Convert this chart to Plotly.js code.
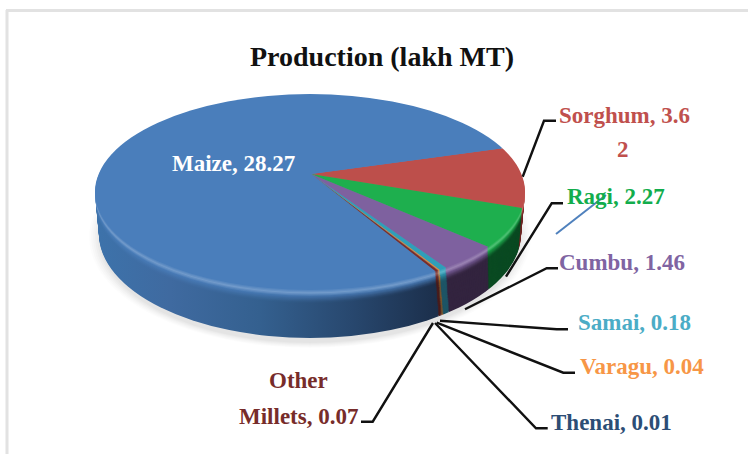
<!DOCTYPE html>
<html><head><meta charset="utf-8">
<script src="https://cdn.plot.ly/plotly-3.0.1.min.js"></script>
<style>html,body{margin:0;padding:0;background:#fff}#c{width:748px;height:454px}</style>
</head><body><div id="c"></div>
<script>
const crops = ['Sorghum','Ragi','Cumbu','Samai','Varagu','Thenai','Other Millets','Maize'];
const production = [3.62,2.27,1.46,0.18,0.04,0.01,0.07,28.27];
const topColors = ['#bd4f4b','#1eaf4e','#7e619f','#2f9fb9','#e8883a','#2c4d75','#7a2c2a','#4a7ebb'];
const wallColors = ['#6e2624','#0a4a22','#33243f','#1d5566','#8f5520','#1a2d45','#4a1b1a','#1c3050'];
const labelColors = ['#c0504d','#12ad4c','#8064a2','#4bacc6','#f79646','#2c4d75','#772c2a','#ffffff'];
const W=748,H=454,FONT='"Liberation Serif", serif';

const apex={x:311,y:174}, squash=0.45, zoom=1.5;
const faceE={cx:310,cy:192,a:215,b:98}, footE={cx:310,cy:234,a:211,b:104};
const R0=200, C0={x:374,y:227};
const STEPS=42;
const px=x=>x/W, py=y=>1-y/H;
const hex=c=>[1,3,5].map(i=>parseInt(c.substr(i,2),16));
const mix=(a,b,t)=>{const A=hex(a),B=hex(b);return 'rgb('+A.map((v,i)=>Math.round(v+(B[i]-v)*t)).join(',')+')'};
// s=0 at rim, 1 at foot: soft bevel first, then wall colour
const wallT=s=>{const u=Math.min(1,Math.max(0,(s-0.06)/0.24));return u*u*(3-2*u);};
const bevel=s=>Math.max(0,1-Math.abs(s-0.07)/0.07)*0.22;
const shade=(c,w,s)=>{const base=mix(c,w,wallT(s));const m=base.match(/\d+/g).map(Number);const b=bevel(s);
  return 'rgb('+m.map(v=>Math.round(v+(255-v)*b)).join(',')+')';};
const traces=[];
function pie(cols){return {type:'pie',values:production,labels:crops,sort:false,direction:'clockwise',rotation:73.4,
  textinfo:'none',hoverinfo:'skip',showlegend:false,marker:{colors:cols,line:{width:0}},
  domain:{x:[px(C0.x-R0),px(C0.x+R0)],y:[py(C0.y+R0),py(C0.y-R0)]}};}
for(let i=STEPS;i>=1;i--){
  const s=i/STEPS;
  traces.push(pie(topColors.map((c,j)=>shade(c,wallColors[j],s))));
}
traces.push(pie(topColors));

// leader lines
const leaders=[
 [[522.7,176.7],[544,120.7],[556,120.7]],
 [[506,276.7],[551.7,203.3],[563,203.3]],
 [[465,309.3],[546.7,268.3],[558,268.3]],
 [[440,320.7],[556.7,329.3],[568,329.3]],
 [[436.7,322.7],[563.3,372.7],[575,372.7]],
 [[435,323],[536,428.3],[547.7,428.3]],
 [[433,323],[372.7,421.7],[361,421.7]]
];
const shapes=[];
[[221,111,.012],[219,110,.014],[217,109,.016],[215,108,.018],[213,107,.02],[211,106,.024]].forEach(g=>{
  shapes.push({type:'circle',xref:'paper',yref:'paper',layer:'below',x0:px(310-g[0]),x1:px(310+g[0]),y0:py(237-g[1]),y1:py(237+g[1]),fillcolor:'#000',opacity:g[2],line:{width:0}});
});
leaders.forEach(l=>{
  shapes.push({type:'path',xref:'paper',yref:'paper',path:'M'+l.map(p=>px(p[0])+','+py(p[1])).join('L'),line:{color:'#111',width:2.4}});
});
shapes.push({type:'line',xref:'paper',yref:'paper',x0:px(556),y0:py(234),x1:px(606),y1:py(195),line:{color:'#4f81bd',width:2}});
shapes.push({type:'line',xref:'paper',yref:'paper',x0:px(6),y0:py(10.5),x1:px(748),y1:py(10.5),line:{color:'#e2e2e2',width:3}});
shapes.push({type:'line',xref:'paper',yref:'paper',x0:px(7),y0:py(10),x1:px(7),y1:py(454),line:{color:'#e2e2e2',width:3}});

const lab=i=>crops[i]+', '+production[i];
const fs=23;
function ann(text,x,y,color){return {text:text,x:px(x),y:py(y),xref:'paper',yref:'paper',showarrow:false,xanchor:'center',yanchor:'middle',align:'center',font:{family:FONT,size:fs,color:color,weight:700}};}
const annotations=[
 ann(lab(7),233,163,labelColors[7]),
 ann('Sorghum, 3.6',624,115,labelColors[0]),
 ann('2',623,149,labelColors[0]),
 ann(lab(1),616,197,labelColors[1]),
 ann(lab(2),622,262,labelColors[2]),
 ann(lab(3),634,322,labelColors[3]),
 ann(lab(4),642,366,labelColors[4]),
 ann(lab(5),611,422,labelColors[5]),
 ann('Other',298,380,labelColors[6]),
 ann('Millets, '+production[6],298,416,labelColors[6])
];
const layout={width:W,height:H,margin:{l:0,r:0,t:0,b:0},paper_bgcolor:'#fff',showlegend:false,
 title:{text:'<b>Production (lakh MT)</b>',x:px(382),xanchor:'center',y:py(56),yanchor:'middle',font:{family:FONT,size:28,color:'#111'}},
 shapes:shapes,annotations:annotations};

Plotly.newPlot('c',traces,layout,{staticPlot:true,displayModeBar:false}).then(gd=>{
  const NS='http://www.w3.org/2000/svg';
  const svg=gd.querySelector('svg.main-svg');
  const defs=document.createElementNS(NS,'defs');svg.insertBefore(defs,svg.firstChild);
  const gs=[...gd.querySelectorAll('.pielayer .trace')];
  const n=gs.length;
  const toUser=x=>C0.x+(x-apex.x)/zoom;
  const maizeStops=[[100,'#3d72aa'],[170,'#3f6aa0'],[260,'#34608f'],[350,'#28486f'],[440,'#1b2e4a']];
  gs.forEach((g,idx)=>{
    const s=idx===n-1?0:(STEPS-idx)/STEPS;
    const E={cx:faceE.cx,cy:faceE.cy+(footE.cy-faceE.cy)*s,a:faceE.a+(footE.a-faceE.a)*s,b:faceE.b+(footE.b-faceE.b)*s};
    const clip=document.createElementNS(NS,'clipPath');clip.setAttribute('id','cl'+idx);
    const e=document.createElementNS(NS,'ellipse');
    e.setAttribute('cx',E.cx);e.setAttribute('cy',E.cy);e.setAttribute('rx',E.a);e.setAttribute('ry',E.b);
    clip.appendChild(e);defs.appendChild(clip);
    const wrap=document.createElementNS(NS,'g');wrap.setAttribute('clip-path','url(#cl'+idx+')');
    g.parentNode.insertBefore(wrap,g);wrap.appendChild(g);
    const dy=E.cy-faceE.cy;
    g.setAttribute('transform','translate('+apex.x+','+(apex.y+dy)+') scale('+zoom+','+(zoom*squash)+') translate('+(-C0.x)+','+(-C0.y)+')');
    if(idx<n-1){
      const grad=document.createElementNS(NS,'linearGradient');grad.setAttribute('id','gr'+idx);
      grad.setAttribute('gradientUnits','userSpaceOnUse');
      const d0=[...g.querySelectorAll('path.surface')];
      grad.setAttribute('x1',toUser(100));grad.setAttribute('x2',toUser(440));grad.setAttribute('y1',0);grad.setAttribute('y2',0);
      maizeStops.forEach(m=>{const st=document.createElementNS(NS,'stop');
        st.setAttribute('offset',(m[0]-100)/340);st.setAttribute('stop-color',shade(topColors[7],m[1],s));grad.appendChild(st);});
      defs.appendChild(grad);
      if(d0[7]) d0[7].style.fill='url(#gr'+idx+')';
    }
  });
});
</script></body></html>
